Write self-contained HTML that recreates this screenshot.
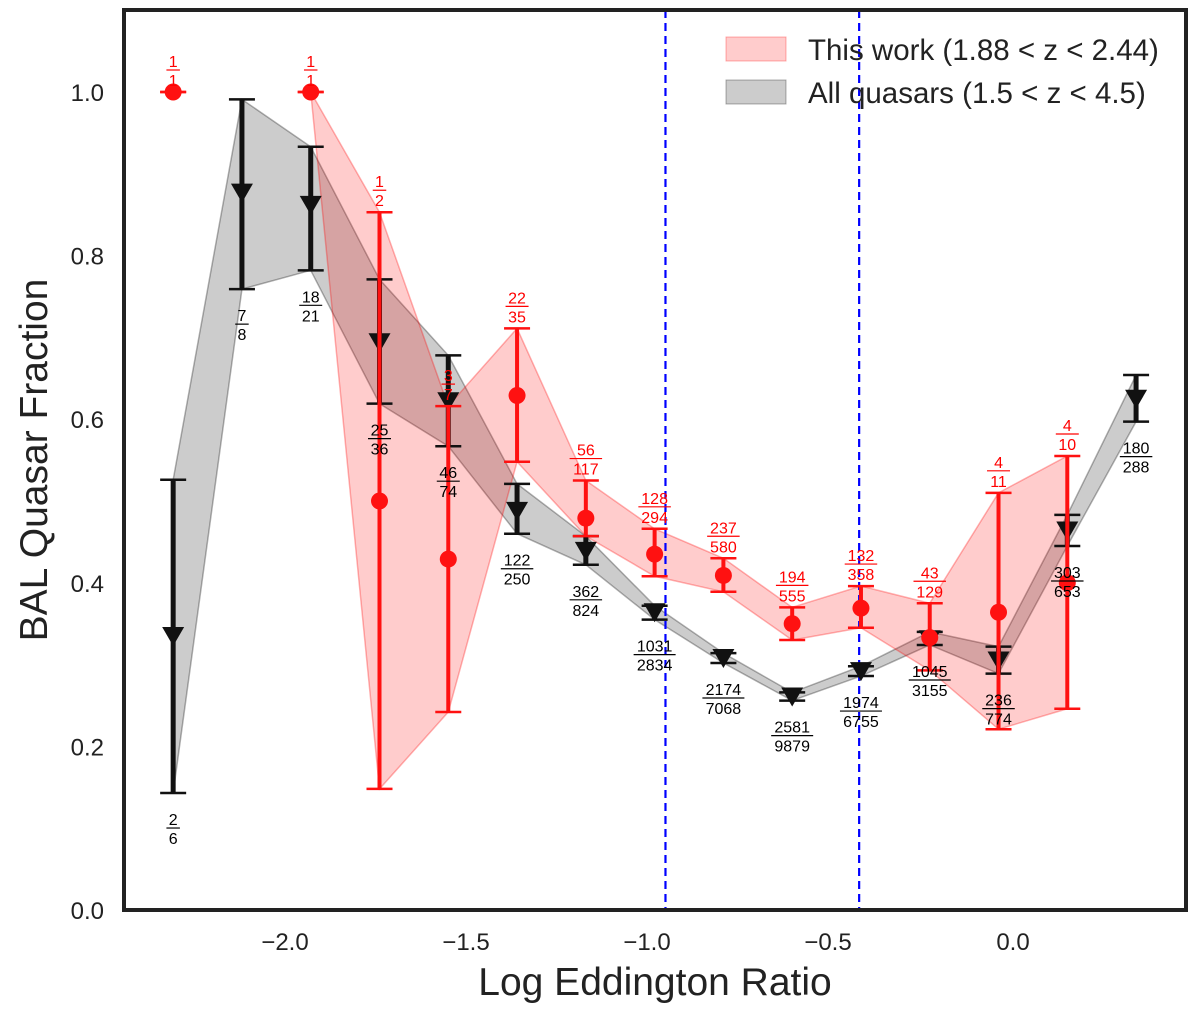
<!DOCTYPE html>
<html><head><meta charset="utf-8"><style>
body{margin:0;background:#fff}
svg{display:block;font-family:"Liberation Sans","DejaVu Sans",sans-serif}
</style></head><body>
<svg id="chart" width="1200" height="1009" viewBox="0 0 1200 1009">
<g id="bands"></g><g id="vlines"></g><g id="marks"></g><g id="labels"></g>
<rect x="124" y="10" width="1062" height="900" fill="none" stroke="#222" stroke-width="4"/>
<g id="ticks"></g>
<text x="655" y="995" font-size="39" text-anchor="middle" fill="#222">Log Eddington Ratio</text>
<text transform="translate(47,460) rotate(-90)" font-size="39" text-anchor="middle" fill="#222">BAL Quasar Fraction</text>
<g>
<rect x="726" y="37" width="60" height="24" fill="rgba(255,0,0,0.2)" stroke="rgba(255,0,0,0.3)"/>
<text x="808" y="60" font-size="29.5" fill="#222">This work (1.88 &lt; z &lt; 2.44)</text>
<rect x="726" y="80" width="60" height="24" fill="rgba(0,0,0,0.2)" stroke="rgba(0,0,0,0.3)"/>
<text x="808" y="103" font-size="29.5" fill="#222">All quasars (1.5 &lt; z &lt; 4.5)</text>
</g>
</svg>
<script>
const blackX=[-2.32,-2.13,-1.94,-1.75,-1.56,-1.37,-1.18,-0.99,-0.80,-0.61,-0.42,-0.23,-0.04,0.15,0.34];
const blackY=[0.335,0.877,0.862,0.694,0.622,0.488,0.439,0.364,0.308,0.261,0.292,0.331,0.305,0.464,0.625];
const blackLo=[0.143,0.759,0.782,0.619,0.567,0.460,0.422,0.355,0.302,0.256,0.286,0.324,0.289,0.445,0.597];
const blackHi=[0.526,0.991,0.933,0.771,0.678,0.521,0.457,0.372,0.314,0.266,0.298,0.340,0.322,0.483,0.654];
const blackNum=["2","7","18","25","46","122","362","1031","2174","2581","1974","1045","236","303","180"];
const blackDen=["6","8","21","36","74","250","824","2834","7068","9879","6755","3155","774","653","288"];
const redX=[-2.32,-1.94,-1.75,-1.56,-1.37,-1.18,-0.99,-0.80,-0.61,-0.42,-0.23,-0.04,0.15];
const redY=[1.0,1.0,0.5,0.429,0.629,0.479,0.435,0.409,0.350,0.369,0.333,0.364,0.400];
const redLo=[1.0,1.0,0.148,0.242,0.548,0.457,0.408,0.389,0.330,0.345,0.293,0.221,0.246];
const redHi=[1.0,1.0,0.853,0.616,0.711,0.525,0.466,0.430,0.370,0.396,0.375,0.510,0.555];
const redNum=["1","1","1","3","22","56","128","237","194","132","43","4","4"];
const redDen=["1","1","2","7","35","117","294","580","555","358","129","11","10"];
const xTicks=[-2.0,-1.5,-1.0,-0.5,0.0];
const yTicks=[0.0,0.2,0.4,0.6,0.8,1.0];
const vLines=[-0.96,-0.425];
const X=v=>1013+v*362, Y=v=>910-v*818;
const NS="http://www.w3.org/2000/svg";
function mk(tag,attrs,parent,txt){const e=document.createElementNS(NS,tag);for(const k in attrs)e.setAttribute(k,attrs[k]);if(txt!==undefined)e.textContent=txt;document.getElementById(parent).appendChild(e);return e;}
function band(xs,lo,hi,fill,stroke,name,start){
  let pts=[];for(let i=start;i<xs.length;i++)pts.push(X(xs[i])+","+Y(hi[i]));
  for(let i=xs.length-1;i>=start;i--)pts.push(X(xs[i])+","+Y(lo[i]));
  const p=mk("polygon",{points:pts.join(" "),fill:fill,stroke:stroke,"stroke-width":1.5},"bands");
  
  
}
band(blackX,blackLo,blackHi,"rgba(0,0,0,0.2)","rgba(0,0,0,0.3)","all-quasars-band",0);
band(redX,redLo,redHi,"rgba(255,0,0,0.2)","rgba(255,0,0,0.3)","this-work-band",1);
vLines.forEach(v=>{const l=mk("line",{x1:X(v),x2:X(v),y1:10,y2:910,stroke:"#00f","stroke-width":2.2,"stroke-dasharray":"8,5"},"vlines");
  
  });
function frac(x,y,n,d,col){
  const g=mk("g",{fill:col,"font-size":16,"text-anchor":"middle"},"labels");
  
  
  const w=Math.max(n.length,d.length)*9.5+4;
  const t1=document.createElementNS(NS,"text");t1.setAttribute("x",x);t1.setAttribute("y",y-3);t1.textContent=n;g.appendChild(t1);
  const ln=document.createElementNS(NS,"line");ln.setAttribute("x1",x-w/2);ln.setAttribute("x2",x+w/2);ln.setAttribute("y1",y);ln.setAttribute("y2",y);ln.setAttribute("stroke",col);ln.setAttribute("stroke-width",1.2);g.appendChild(ln);
  const t2=document.createElementNS(NS,"text");t2.setAttribute("x",x);t2.setAttribute("y",y+16);t2.textContent=d;g.appendChild(t2);
}
function errbar(x,lo,hi,col,name,lw){
  const g=mk("g",{stroke:col,"stroke-width":lw},"marks");
  
  
  [["line",{x1:x,x2:x,y1:Y(lo),y2:Y(hi)}],["line",{x1:x-13,x2:x+13,y1:Y(lo),y2:Y(lo),"stroke-width":2.5}],["line",{x1:x-13,x2:x+13,y1:Y(hi),y2:Y(hi),"stroke-width":2.5}]].forEach(([t,a])=>{const e=document.createElementNS(NS,t);for(const k in a)e.setAttribute(k,a[k]);g.appendChild(e);});
}
blackX.forEach((v,i)=>{const x=X(v);errbar(x,blackLo[i],blackHi[i],"#111","all-quasars-errorbar",5);
  const y=Y(blackY[i]);
  const t=mk("polygon",{points:`${x-11},${y-9} ${x+11},${y-9} ${x},${y+10}`,fill:"#111"},"marks");
  
  
  frac(x,Y(blackLo[i])+35,blackNum[i],blackDen[i],"#000");});
redX.forEach((v,i)=>{const x=X(v);errbar(x,redLo[i],redHi[i],"#f11","this-work-errorbar",4);
  const c=mk("circle",{cx:x,cy:Y(redY[i]),r:8.5,fill:"#f11"},"marks");
  
  
  frac(x,Y(redHi[i])-22,redNum[i],redDen[i],"#f00");});
xTicks.forEach(v=>{const lab=(v<0?"\u2212":"")+Math.abs(v).toFixed(1);
  const t=mk("text",{x:X(v)-(v<0?4:0),y:950,"font-size":24,"text-anchor":"middle",fill:"#222"},"ticks",lab);
  
  });
yTicks.forEach(v=>{const t=mk("text",{x:104,y:Y(v)+9,"font-size":24,"text-anchor":"end",fill:"#222"},"ticks",v.toFixed(1));
  
  });
</script>
</body></html>
